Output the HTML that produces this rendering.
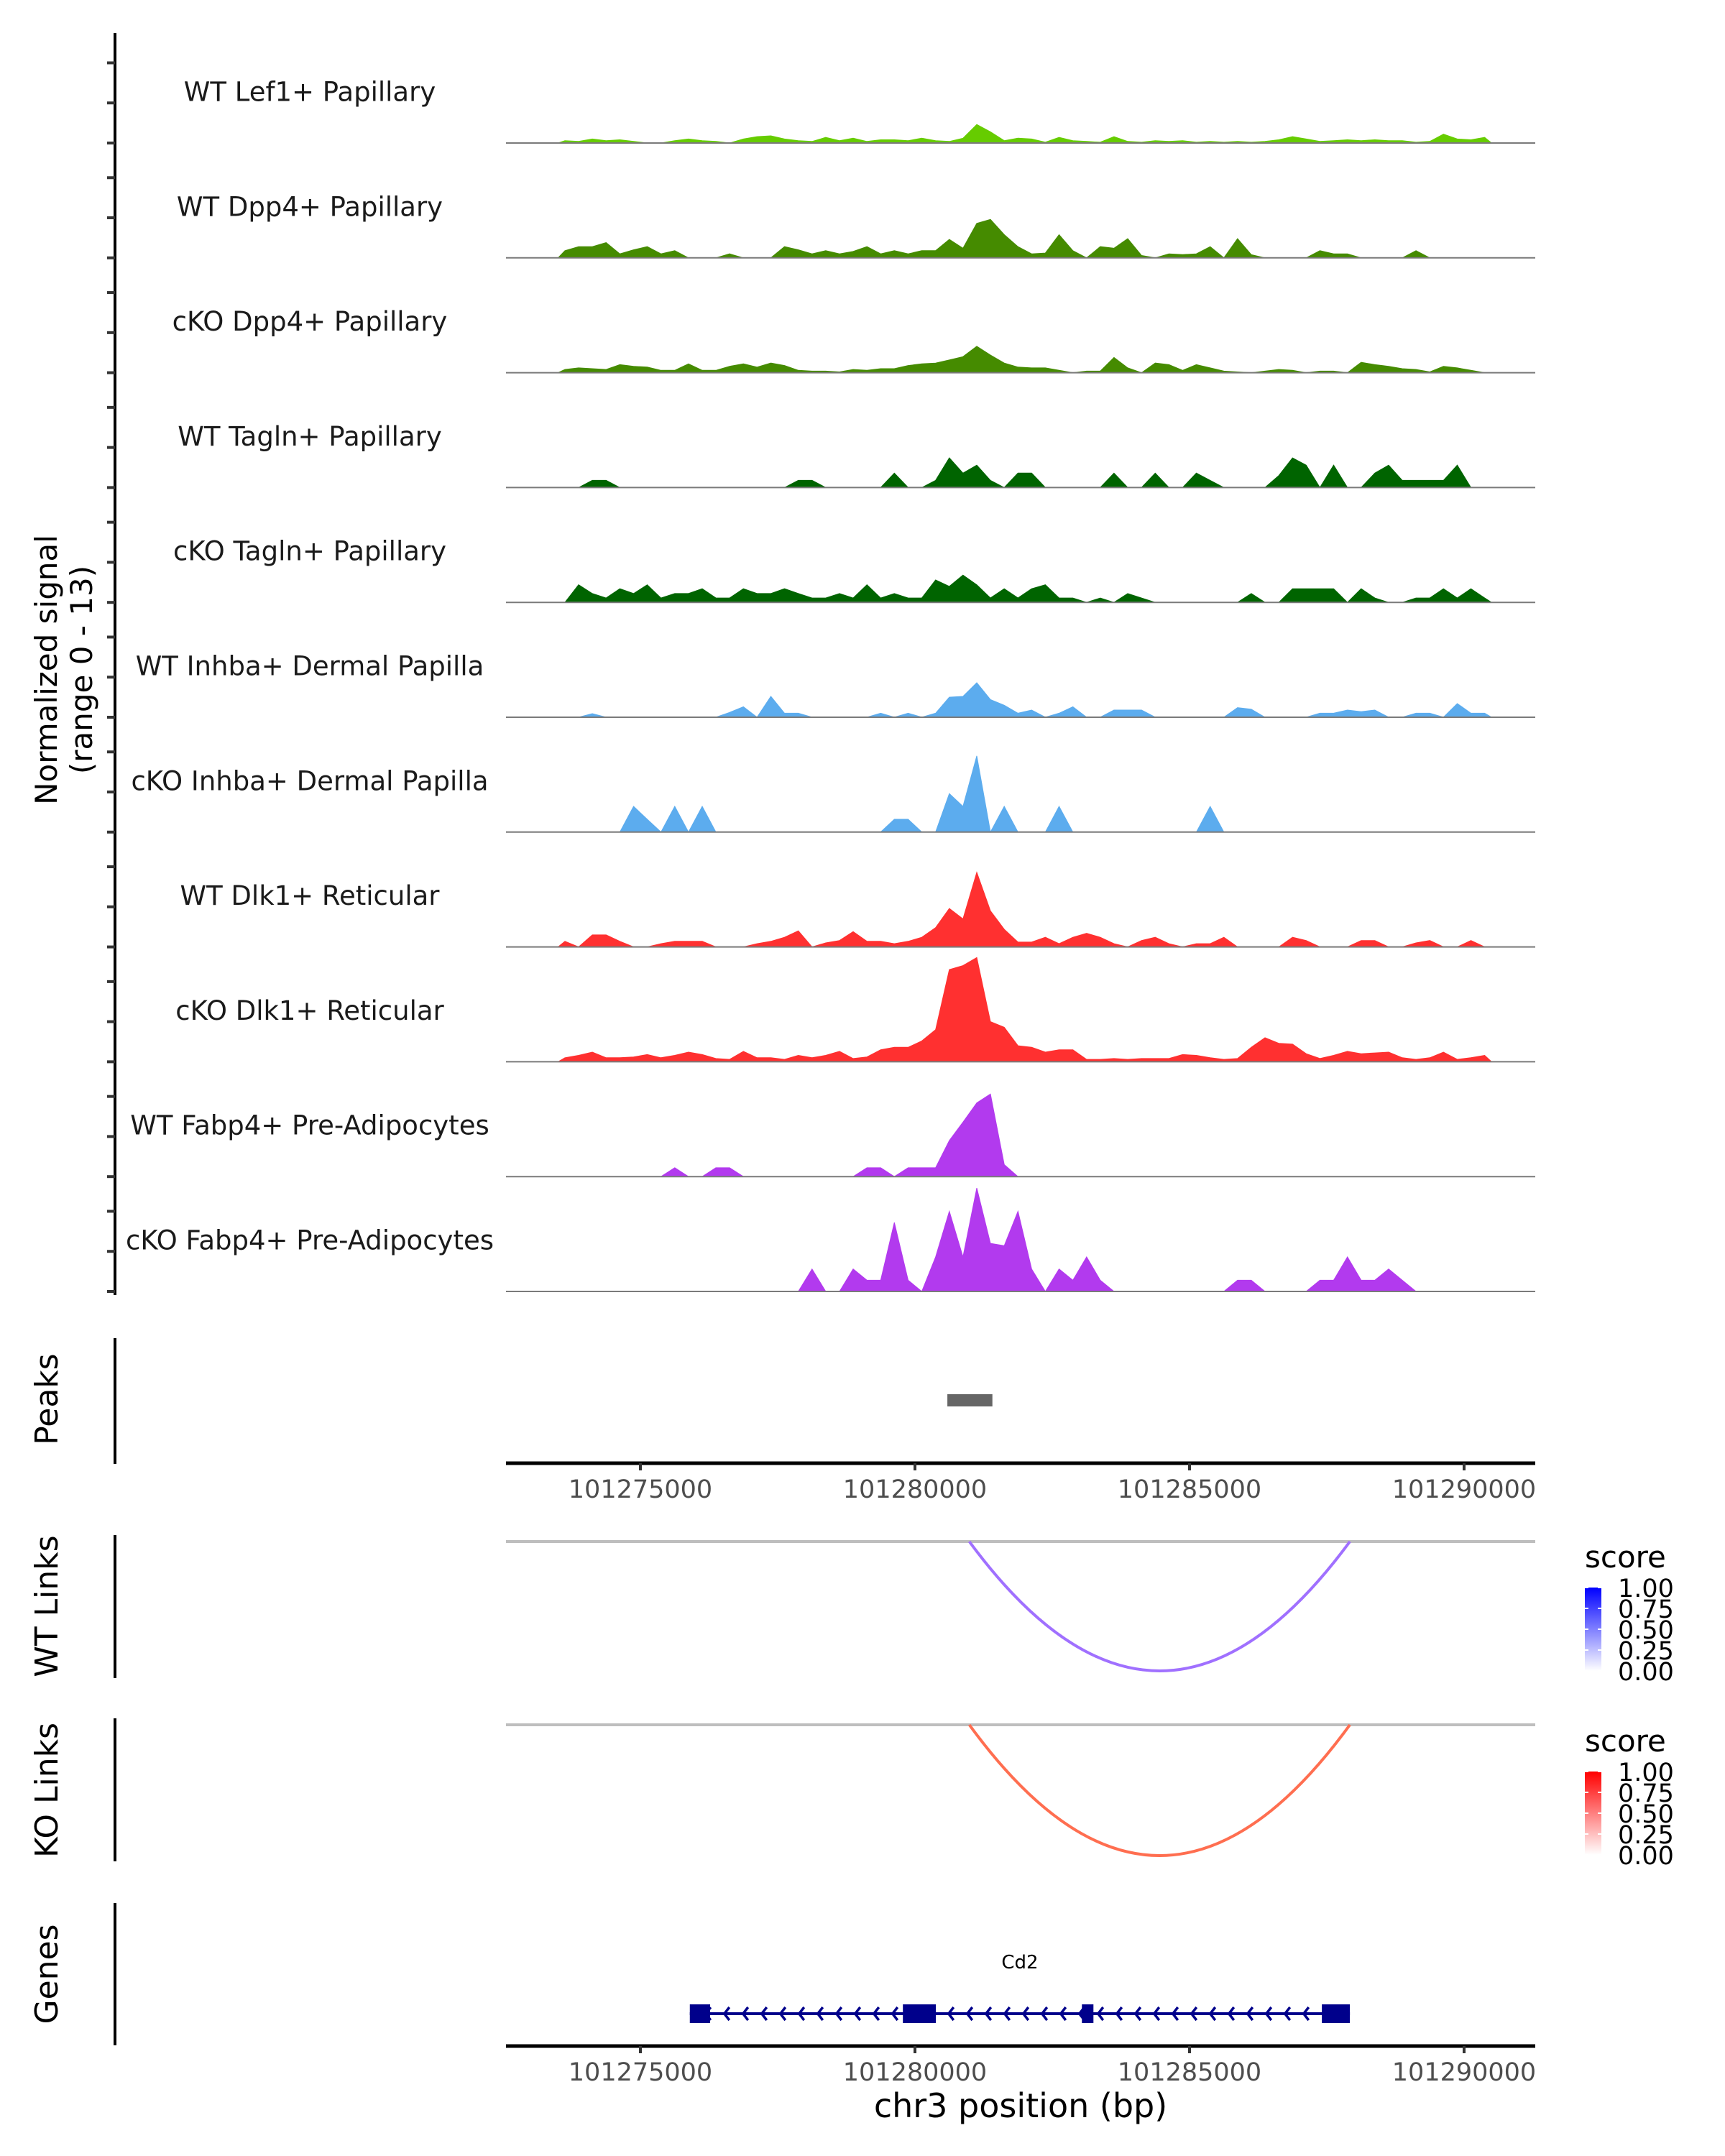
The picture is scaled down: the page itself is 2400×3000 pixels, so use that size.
<!DOCTYPE html>
<html><head><meta charset="utf-8"><style>
html,body{margin:0;padding:0;background:#fff;}
svg{display:block;font-family:"DejaVu Sans","Liberation Sans",sans-serif;}
</style></head><body>
<svg id="chart" width="2400" height="3000" viewBox="0 0 2400 3000" xmlns="http://www.w3.org/2000/svg">
<rect width="2400" height="3000" fill="#fff"/>
<g id="tracks"></g>
<g id="y-title" transform="translate(0,932) rotate(-90)" font-size="42" fill="#000" text-anchor="middle">
<text y="79">Normalized signal</text>
<text y="128">(range 0 - 13)</text>
</g>
<g id="lower"></g>
</svg>
<script>
// ---- data ----
const trackNames = ["WT Lef1+ Papillary","WT Dpp4+ Papillary","cKO Dpp4+ Papillary","WT Tagln+ Papillary","cKO Tagln+ Papillary","WT Inhba+ Dermal Papilla","cKO Inhba+ Dermal Papilla","WT Dlk1+ Reticular","cKO Dlk1+ Reticular","WT Fabp4+ Pre-Adipocytes","cKO Fabp4+ Pre-Adipocytes"];
const trackColors = ["#66cc00","#458b00","#458b00","#006400","#006400","#5cacee","#5cacee","#ff3030","#ff3030","#b23aee","#b23aee"];
const binStart = 101273625;
const binSize = 250;
const sigLef1WT = [0.3,0.2,0.5,0.3,0.4,0.2,0,0,0.3,0.5,0.3,0.2,0,0.5,0.8,0.9,0.5,0.3,0.2,0.7,0.3,0.6,0.2,0.4,0.4,0.3,0.6,0.3,0.2,0.6,2.3,1.4,0.3,0.6,0.5,0.1,0.7,0.3,0.2,0.1,0.8,0.2,0.1,0.3,0.2,0.3,0.1,0.2,0.1,0.2,0.1,0.2,0.4,0.8,0.5,0.2,0.3,0.4,0.3,0.4,0.3,0.3,0.1,0.2,1.1,0.5,0.4,0.7];
const sigDpp4WT = [0.9,1.4,1.4,1.9,0.5,1.0,1.4,0.5,0.9,0,0,0,0.5,0,0,0,1.4,1.0,0.5,0.9,0.5,0.8,1.4,0.5,0.9,0.5,0.9,0.9,2.3,1.2,4.3,4.8,2.9,1.4,0.5,0.6,2.9,0.9,0,1.4,1.2,2.4,0.3,0,0.5,0.4,0.5,1.4,0,2.4,0.4,0,0,0,0,0.9,0.5,0.5,0,0,0,0,0.9,0,0,0,0,0];
const sigDpp4KO = [0.4,0.6,0.5,0.4,1.0,0.8,0.7,0.3,0.3,1.1,0.3,0.3,0.8,1.1,0.7,1.2,0.9,0.3,0.2,0.2,0.1,0.4,0.3,0.5,0.5,0.9,1.1,1.2,1.6,2.0,3.3,2.2,1.2,0.7,0.6,0.6,0.3,0,0.2,0.2,1.9,0.6,0,1.2,1.0,0.3,1.0,0.6,0.2,0.1,0,0.2,0.4,0.3,0,0.2,0.2,0,1.3,1.0,0.8,0.5,0.4,0.1,0.8,0.6,0.3,0];
const sigTaglnWT = [0,0,0.9,0.9,0,0,0,0,0,0,0,0,0,0,0,0,0,0.9,0.9,0,0,0,0,0,1.8,0,0,0.9,3.7,1.8,2.8,0.9,0,1.8,1.8,0,0,0,0,0,1.8,0,0,1.8,0,0,1.8,0.9,0,0,0,0,1.5,3.7,2.8,0,2.8,0,0,1.8,2.8,0.9,0.9,0.9,0.9,2.8,0,0];
const sigTaglnKO = [0,2.2,1.1,0.55,1.7,1.1,2.2,0.55,1.1,1.1,1.7,0.55,0.55,1.7,1.1,1.1,1.7,1.1,0.55,0.55,1.1,0.55,2.2,0.55,1.1,0.55,0.55,2.8,2.0,3.4,2.2,0.55,1.7,0.55,1.7,2.2,0.55,0.55,0,0.55,0,1.1,0.55,0,0,0,0,0,0,0,1.1,0,0,1.7,1.7,1.7,1.7,0,1.7,0.55,0,0,0.55,0.55,1.7,0.55,1.7,0.55];
const sigInhbaWT = [0,0,0.45,0,0,0,0,0,0,0,0,0,0.6,1.3,0,2.6,0.5,0.5,0,0,0,0,0,0.5,0,0.5,0,0.5,2.5,2.6,4.3,2.2,1.5,0.5,0.9,0,0.5,1.3,0,0,0.9,0.9,0.9,0,0,0,0,0,0,1.2,1.0,0,0,0,0,0.5,0.5,0.9,0.7,0.9,0,0,0.5,0.5,0,1.7,0.5,0.5];
const sigInhbaKO = [0,0,0,0,0,3.2,1.6,0,3.2,0,3.2,0,0,0,0,0,0,0,0,0,0,0,0,0,1.6,1.6,0,0,4.8,3.2,9.5,0,3.2,0,0,0,3.2,0,0,0,0,0,0,0,0,0,0,3.2,0,0,0,0,0,0,0,0,0,0,0,0,0,0,0,0,0,0,0,0];
const sigDlk1WT = [0.7,0,1.5,1.5,0.7,0,0,0.4,0.7,0.7,0.7,0,0,0,0.4,0.7,1.2,2.0,0,0.5,0.8,1.9,0.7,0.7,0.4,0.7,1.2,2.4,4.8,3.5,9.3,4.5,2.2,0.6,0.6,1.2,0.4,1.2,1.7,1.2,0.4,0,0.8,1.2,0.4,0,0.4,0.4,1.2,0,0,0,0,1.2,0.8,0,0,0,0.8,0.8,0,0,0.5,0.8,0,0,0.8,0];
const sigDlk1KO = [0.5,0.8,1.2,0.5,0.5,0.6,0.9,0.5,0.8,1.2,0.9,0.4,0.3,1.3,0.5,0.5,0.3,0.8,0.5,0.8,1.3,0.4,0.6,1.5,1.8,1.8,2.6,4.0,11.5,12.0,13.0,5.0,4.3,2.0,1.8,1.2,1.5,1.5,0.3,0.3,0.4,0.3,0.4,0.4,0.4,0.9,0.8,0.5,0.3,0.4,1.8,3.0,2.3,2.2,1.0,0.4,0.8,1.3,1.0,1.1,1.2,0.5,0.3,0.5,1.2,0.3,0.5,0.8];
const sigFabp4WT = [0,0,0,0,0,0,0,0,1.1,0,0,1.1,1.1,0,0,0,0,0,0,0,0,0,1.1,1.1,0,1.1,1.1,1.1,4.5,6.8,9.2,10.3,1.5,0,0,0,0,0,0,0,0,0,0,0,0,0,0,0,0,0,0,0,0,0,0,0,0,0,0,0,0,0,0,0,0,0,0,0];
const sigFabp4KO = [0,0,0,0,0,0,0,0,0,0,0,0,0,0,0,0,0,0,2.8,0,0,2.8,1.4,1.4,8.6,1.4,0,4.3,10,4.3,12.9,6,5.7,10,2.8,0,2.8,1.4,4.3,1.4,0,0,0,0,0,0,0,0,0,1.4,1.4,0,0,0,0,1.4,1.4,4.3,1.4,1.4,2.8,1.4,0,0,0,0,0,0];
const signals = [sigLef1WT,sigDpp4WT,sigDpp4KO,sigTaglnWT,sigTaglnKO,sigInhbaWT,sigInhbaKO,sigDlk1WT,sigDlk1KO,sigFabp4WT,sigFabp4KO];
const xTicks = [101275000,101280000,101285000,101290000];
const xTickLabels = ["101275000","101280000","101285000","101290000"];
const peakStarts = [101280590];
const peakEnds = [101281410];
const wtLinkStart = [101280990]; const wtLinkEnd = [101287920]; const wtLinkScore = [0.6];
const koLinkStart = [101280990]; const koLinkEnd = [101287920]; const koLinkScore = [0.6];
const geneName = "Cd2";
const geneStart = 101275900, geneEnd = 101287920;
const exonStarts = [101275900,101279780,101283040,101287410];
const exonEnds = [101276270,101280380,101283250,101287920];
const legendTicks = [1.00,0.75,0.50,0.25,0.00];
const legendLabels = ["1.00","0.75","0.50","0.25","0.00"];

// ---- scales ----
const NS="http://www.w3.org/2000/svg";
const X0=704, X1=2136;
function xs(bp){return 891+(bp-101275000)*0.07640;}
const baseY0=199, trackStep=159.8, maxVal=13, trackH=145;
function ys(v,i){return baseY0+trackStep*i - v/maxVal*trackH;}
function mk(tag,attrs,parent){const e=document.createElementNS(NS,tag);for(const k in attrs)e.setAttribute(k,attrs[k]);parent.appendChild(e);return e;}

const tg=document.getElementById('tracks');
let ax=mk('line',{x1:160,y1:46,x2:160,y2:1802,stroke:'#000','stroke-width':4},tg);


signals.forEach((sig,i)=>{
  const by=baseY0+trackStep*i;
  [0,5,10].forEach(t=>{
    const tk=mk('line',{x1:149,x2:160,y1:ys(t,i),y2:ys(t,i),stroke:'#333','stroke-width':4},tg);
    
    
  });
  const lab=mk('text',{x:431,y:by-71,'font-size':37,fill:'#1a1a1a','text-anchor':'middle','dominant-baseline':'central'},tg);
  lab.textContent=trackNames[i];
  
  
  let d='M'+xs(binStart-binSize/2).toFixed(1)+','+by;
  sig.forEach((v,k)=>{d+=' L'+xs(binStart+k*binSize).toFixed(1)+','+ys(v,i).toFixed(1);});
  d+=' L'+xs(binStart+(sig.length-0.5)*binSize).toFixed(1)+','+by+' Z';
  const ar=mk('path',{d:d,fill:trackColors[i],stroke:trackColors[i],'stroke-width':1},tg);
  
  
  const bl=mk('line',{x1:X0,x2:X1,y1:by,y2:by,stroke:'#7a7a7a','stroke-width':2},tg);
  
  
});

const lg=document.getElementById('lower');
function sideLabel(txt,cy,name){
  const t=mk('text',{transform:'translate(80,'+cy+') rotate(-90)','font-size':44,'text-anchor':'middle',fill:'#000'},lg);
  t.textContent=txt;
  
  
}
function vline(y1,y2,name){const l=mk('line',{x1:160,x2:160,y1:y1,y2:y2,stroke:'#000','stroke-width':4},lg);
  
  }
function xAxis(y,name){
  const a=mk('line',{x1:X0,x2:X1,y1:y,y2:y,stroke:'#000','stroke-width':5},lg);
  
  
  xTicks.forEach((t,j)=>{
    const tk=mk('line',{x1:xs(t),x2:xs(t),y1:y,y2:y+10,stroke:'#333','stroke-width':4},lg);
    
    
    const tl=mk('text',{x:xs(t),y:y+48,'font-size':35,fill:'#4d4d4d','text-anchor':'middle'},lg);
    tl.textContent=xTickLabels[j];
    
    
  });
}
sideLabel('Peaks',1947,'peaks-label'); vline(1862,2037,'peaks-axis');
peakStarts.forEach((s,j)=>{const r=mk('rect',{x:xs(s),y:1940,width:xs(peakEnds[j])-xs(s),height:17,fill:'#666'},lg);
  
  });
xAxis(2036,'peaks-x-axis');
function links(starts,ends,scores,lineY,depth,c0,c1,label,cy,axY1,axY2,legY,prefix){
  sideLabel(label,cy,prefix+'-label'); vline(axY1,axY2,prefix+'-axis');
  const gl=mk('line',{x1:X0,x2:X1,y1:lineY,y2:lineY,stroke:'#bebebe','stroke-width':4},lg);
  
  
  starts.forEach((s,j)=>{
    const a=xs(s),b=xs(ends[j]),m=(a+b)/2;
    const p=mk('path',{d:'M'+a+','+lineY+' Q'+m+','+(lineY+2*depth)+' '+b+','+lineY,fill:'none',stroke:c1,'stroke-width':4},lg);
    
    
  });
  const tt=mk('text',{x:2205,y:legY+14,'font-size':42,fill:'#000'},lg);
  tt.textContent='score';
  
  
  const gid='grad'+prefix;
  const defs=mk('defs',{},lg);
  const gr=mk('linearGradient',{id:gid,x1:0,y1:1,x2:0,y2:0},defs);
  mk('stop',{offset:0,'stop-color':'#ffffff'},gr);
  mk('stop',{offset:1,'stop-color':c0},gr);
  const top=legY+42, bot=legY+158;
  const cb=mk('rect',{x:2205,y:top,width:23,height:bot-top,fill:'url(#'+gid+')'},lg);
  
  
  legendTicks.forEach((v,j)=>{
    const yy=bot-v*(bot-top);
    mk('line',{x1:2205,x2:2210,y1:yy,y2:yy,stroke:'#fff','stroke-width':2},lg);
    mk('line',{x1:2223,x2:2228,y1:yy,y2:yy,stroke:'#fff','stroke-width':2},lg);
    const t=mk('text',{x:2251,y:yy+13,'font-size':35,fill:'#000'},lg);
    t.textContent=legendLabels[j];
    
    
  });
}
links(wtLinkStart,wtLinkEnd,wtLinkScore,2145,180,'#0000ff','#a070ff','WT Links',2235,2136,2335,2167,'wt-links');
links(koLinkStart,koLinkEnd,koLinkScore,2400,182,'#ff0000','#ff6e50','KO Links',2491,2391,2590,2423,'ko-links');
sideLabel('Genes',2747,'genes-label'); vline(2648,2846,'genes-axis');
const gy=2802;
const gname=mk('text',{x:xs((geneStart+geneEnd)/2),y:2739,'font-size':26,fill:'#000','text-anchor':'middle'},lg);
gname.textContent=geneName;


const gline=mk('line',{x1:xs(geneStart),x2:xs(geneEnd),y1:gy,y2:gy,stroke:'#00008b','stroke-width':4},lg);


for(let x=xs(geneStart)+22;x<xs(geneEnd)-10;x+=26){
  const ch=mk('path',{d:'M'+(x+7)+','+(gy-9)+' L'+x+','+gy+' L'+(x+7)+','+(gy+9),fill:'none',stroke:'#00008b','stroke-width':3.5},lg);
  
  
}
exonStarts.forEach((s,j)=>{
  const r=mk('rect',{x:xs(s),y:gy-13,width:xs(exonEnds[j])-xs(s),height:26,fill:'#00008b'},lg);
  
  
});
xAxis(2847,'genes-x-axis');
const xt=mk('text',{x:1420,y:2946,'font-size':46,fill:'#000','text-anchor':'middle'},lg);
xt.textContent='chr3 position (bp)';


</script>
</body></html>
